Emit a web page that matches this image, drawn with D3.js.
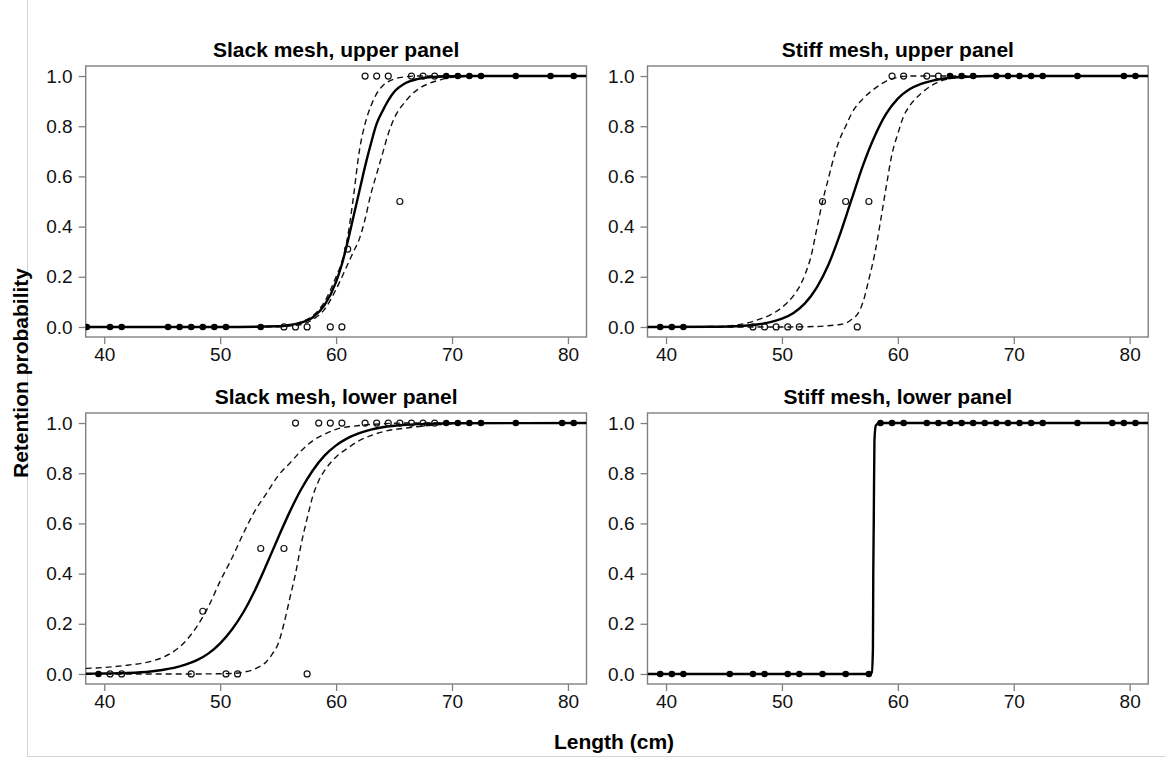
<!DOCTYPE html>
<html>
<head>
<meta charset="utf-8">
<script src="https://cdn.jsdelivr.net/npm/d3@7"></script>
<style>
  body { margin: 0; background: #fff; }
  svg { display: block; font-family: "Liberation Sans", Arial, sans-serif; }
</style>
</head>
<body>
<svg width="1165" height="758"></svg>
<script>
// tick labels
const xTicks = [40, 50, 60, 70, 80];
const yTicks = [0, 0.2, 0.4, 0.6, 0.8, 1.0];

const panelTitles = ["Slack mesh, upper panel", "Stiff mesh, upper panel",
                     "Slack mesh, lower panel", "Stiff mesh, lower panel"];

// observed proportions retained [length, proportion]
const slackUpperFilled = [[38.5,0],[40.5,0],[41.5,0],[45.5,0],[46.5,0],[47.5,0],[48.5,0],[49.5,0],[50.5,0],[53.5,0],
  [69.5,1],[70.5,1],[71.5,1],[72.5,1],[75.5,1],[78.5,1],[80.5,1]];
const slackUpperOpen = [[55.5,0],[56.5,0],[57.5,0],[59.5,0],[60.5,0],[61.0,0.31],[62.5,1],[63.5,1],[64.5,1],
  [65.5,0.5],[66.5,1],[67.5,1],[68.5,1]];

const stiffUpperFilled = [[39.5,0],[40.5,0],[41.5,0],
  [64.5,1],[65.5,1],[66.5,1],[68.5,1],[69.5,1],[70.5,1],[71.5,1],[72.5,1],[75.5,1],[79.5,1],[80.5,1]];
const stiffUpperOpen = [[47.5,0],[48.5,0],[49.5,0],[50.5,0],[51.5,0],[53.5,0.5],[55.5,0.5],[56.5,0],[57.5,0.5],
  [59.5,1],[60.5,1],[62.5,1],[63.5,1]];

const slackLowerFilled = [[39.5,0],[69.5,1],[70.5,1],[71.5,1],[72.5,1],[75.5,1],[79.5,1],[80.5,1]];
const slackLowerOpen = [[40.5,0],[41.5,0],[47.5,0],[48.5,0.25],[50.5,0],[51.5,0],[53.5,0.5],[55.5,0.5],[57.5,0],
  [56.5,1],[58.5,1],[59.5,1],[60.5,1],[62.5,1],[63.5,1],[64.5,1],[65.5,1],[66.5,1],[67.5,1],[68.5,1]];

const stiffLowerFilled = [[39.5,0],[40.5,0],[41.5,0],[45.5,0],[47.5,0],[48.5,0],[50.5,0],[51.5,0],[53.5,0],[55.5,0],[57.5,0],
  [58.5,1],[59.5,1],[60.5,1],[62.5,1],[63.5,1],[64.5,1],[65.5,1],[66.5,1],[67.5,1],[68.5,1],[69.5,1],[70.5,1],
  [71.5,1],[72.5,1],[75.5,1],[78.5,1],[79.5,1],[80.5,1]];
const stiffLowerOpen = [];

// fitted curves and confidence bands
const slackUpperFit = [[38.4,0],[50,0],[55,0.003],[56,0.008],[57,0.017],[58,0.039],[59,0.087],[60,0.18],[60.5,0.25],
  [61,0.34],[61.5,0.44],[62,0.54],[62.5,0.64],[63,0.73],[63.5,0.81],[64,0.86],[65,0.936],[66,0.972],[67,0.988],
  [68,0.995],[70,0.999],[72,1],[81.6,1]];
const slackUpperHi = [[38.4,0],[50,0],[54,0.002],[56,0.008],[57,0.02],[58,0.045],[59,0.1],[60,0.2],[60.5,0.26],
  [61,0.36],[61.5,0.52],[62,0.7],[62.5,0.81],[63,0.88],[63.5,0.93],[64,0.96],[65,0.988],[66,0.997],[67,1],[81.6,1]];
const slackUpperLo = [[38.4,0],[50,0],[55,0.001],[57,0.01],[58,0.03],[59,0.07],[60,0.15],[61,0.25],[61.5,0.3],
  [62,0.35],[62.5,0.43],[63,0.53],[63.5,0.61],[64,0.69],[64.5,0.77],[65,0.83],[66,0.9],[67,0.945],[68,0.97],
  [69,0.985],[70,0.995],[72,1],[81.6,1]];

const stiffUpperFit = [[38.4,0],[44,0.001],[46,0.003],[47,0.006],[48,0.011],[49,0.019],[50,0.033],[51,0.056],
  [52,0.095],[53,0.157],[54,0.247],[55,0.368],[56,0.507],[57,0.645],[58,0.76],[59,0.85],[60,0.91],[61,0.947],
  [62,0.969],[63,0.982],[64,0.99],[66,0.997],[68,1],[81.6,1]];
const stiffUpperHi = [[38.4,0],[44,0.002],[46,0.007],[48,0.03],[49,0.048],[50,0.078],[51,0.125],[51.5,0.16],
  [52,0.21],[52.5,0.28],[53,0.39],[53.5,0.5],[54,0.59],[54.5,0.68],[55,0.75],[55.5,0.8],[56,0.85],[57,0.91],
  [58,0.95],[59,0.98],[60,0.995],[61,1],[81.6,1]];
const stiffUpperLo = [[38.4,0],[50,0],[53,0.002],[54,0.005],[55,0.01],[55.5,0.015],[56,0.03],[56.5,0.05],[57,0.1],
  [57.5,0.19],[58,0.29],[58.5,0.42],[59,0.56],[59.5,0.69],[60,0.77],[60.5,0.84],[61,0.88],[62,0.93],[63,0.965],
  [64,0.985],[65,0.995],[66,1],[81.6,1]];

const slackLowerFit = [[38.4,0.001],[40,0.002],[42,0.004],[44,0.01],[45,0.016],[46,0.024],[47,0.037],[48,0.055],
  [49,0.082],[50,0.122],[51,0.176],[52,0.246],[53,0.334],[54,0.436],[55,0.543],[56,0.646],[57,0.737],[58,0.812],
  [59,0.87],[60,0.911],[61,0.94],[62,0.96],[63,0.974],[64,0.983],[66,0.993],[68,0.997],[70,0.999],[81.6,1]];
const slackLowerHi = [[38.4,0.022],[40,0.026],[42,0.035],[44,0.05],[45,0.065],[46,0.09],[47,0.13],[48,0.19],
  [49,0.27],[50,0.37],[51,0.46],[52,0.56],[53,0.65],[54,0.72],[55,0.79],[56,0.84],[57,0.89],[58,0.93],[59,0.955],
  [60,0.975],[62,0.99],[64,0.997],[66,1],[81.6,1]];
const slackLowerLo = [[38.4,0],[48,0],[50,0.001],[51,0.002],[52,0.007],[53,0.02],[54,0.05],[54.5,0.08],[55,0.12],
  [55.5,0.2],[56,0.3],[56.5,0.4],[57,0.52],[57.5,0.62],[58,0.71],[58.5,0.77],[59,0.81],[60,0.865],[61,0.9],
  [62,0.93],[63,0.95],[64,0.965],[66,0.98],[68,0.99],[70,0.997],[72,1],[81.6,1]];

const stiffLowerFit = [[38.4,0],[57.5,0],[57.75,0.005],[57.85,0.1],[57.88,0.4],[57.92,0.6],[57.98,0.93],
  [58.1,0.99],[58.4,1],[81.6,1]];

const panels = [
  { title: panelTitles[0], x0: 85.7, x1: 586.5, y0: 66, y1: 337,
    filled: slackUpperFilled, open: slackUpperOpen, fit: slackUpperFit, bands: [slackUpperHi, slackUpperLo] },
  { title: panelTitles[1], x0: 647.5, x1: 1148.2, y0: 66, y1: 337,
    filled: stiffUpperFilled, open: stiffUpperOpen, fit: stiffUpperFit, bands: [stiffUpperHi, stiffUpperLo] },
  { title: panelTitles[2], x0: 85.7, x1: 586.5, y0: 413, y1: 684,
    filled: slackLowerFilled, open: slackLowerOpen, fit: slackLowerFit, bands: [slackLowerHi, slackLowerLo] },
  { title: panelTitles[3], x0: 647.5, x1: 1148.2, y0: 413, y1: 684,
    filled: stiffLowerFilled, open: stiffLowerOpen, fit: stiffLowerFit, bands: [] }
];

const svg = d3.select("svg");
const grey = "#808080";

// faint frame of the original figure
svg.append("line").attr("x1", 27.5).attr("x2", 27.5).attr("y1", 0).attr("y2", 756)
  .attr("stroke", "#d4d4d4").attr("stroke-width", 1);
svg.append("line").attr("x1", 27).attr("x2", 1165).attr("y1", 756.5).attr("y2", 756.5)
  .attr("stroke", "#d4d4d4").attr("stroke-width", 1);

panels.forEach(function (p, i) {
  const x = d3.scaleLinear().domain([38.4, 81.6]).range([p.x0, p.x1]);
  const y = d3.scaleLinear().domain([-0.04, 1.04]).range([p.y1, p.y0]);
  const g = svg.append("g");

  const clipId = "clip" + i;
  g.append("clipPath").attr("id", clipId)
    .append("rect").attr("x", p.x0).attr("y", p.y0)
    .attr("width", p.x1 - p.x0).attr("height", p.y1 - p.y0);

  // axes
  const xAxis = d3.axisBottom(x).tickValues(xTicks).tickSize(7).tickPadding(4).tickFormat(d3.format("d"));
  const yAxis = d3.axisLeft(y).tickValues(yTicks).tickSize(7).tickPadding(6).tickFormat(d3.format(".1f"));

  const gx = g.append("g").attr("transform", "translate(0," + p.y1 + ")").call(xAxis);
  const gy = g.append("g").attr("transform", "translate(" + p.x0 + ",0)").call(yAxis);
  [gx, gy].forEach(function (a) {
    a.select(".domain").remove();
    a.selectAll(".tick line").attr("stroke", grey).attr("stroke-width", 1.3);
    a.selectAll(".tick text").attr("fill", "#111").style("font-size", "19px")
      .style("font-family", "'Liberation Sans', Arial, sans-serif");
  });
  gx.selectAll(".tick text").attr("dy", "0.71em");

  // plot box
  g.append("rect").attr("x", p.x0).attr("y", p.y0)
    .attr("width", p.x1 - p.x0).attr("height", p.y1 - p.y0)
    .attr("fill", "none").attr("stroke", grey).attr("stroke-width", 1.4);

  // title
  g.append("text").attr("x", (p.x0 + p.x1) / 2).attr("y", p.y0 - 9)
    .attr("text-anchor", "middle").style("font-size", "21px").style("font-weight", "bold")
    .text(p.title);

  const line = d3.line()
    .x(function (d) { return x(d[0]); })
    .y(function (d) { return y(d[1]); })
    .curve(d3.curveMonotoneX);

  const plot = g.append("g").attr("clip-path", "url(#" + clipId + ")");

  p.bands.forEach(function (b) {
    plot.append("path").datum(b).attr("d", line)
      .attr("fill", "none").attr("stroke", "#111").attr("stroke-width", 1.4)
      .attr("stroke-dasharray", "6,4");
  });

  plot.append("path").datum(p.fit).attr("d", line)
    .attr("fill", "none").attr("stroke", "#000").attr("stroke-width", 2.4);

  plot.selectAll("circle.open").data(p.open).enter().append("circle")
    .attr("class", "open")
    .attr("cx", function (d) { return x(d[0]); })
    .attr("cy", function (d) { return y(d[1]); })
    .attr("r", 3).attr("fill", "none").attr("stroke", "#111").attr("stroke-width", 1.2);

  plot.selectAll("circle.filled").data(p.filled).enter().append("circle")
    .attr("class", "filled")
    .attr("cx", function (d) { return x(d[0]); })
    .attr("cy", function (d) { return y(d[1]); })
    .attr("r", 3.3).attr("fill", "#000");
});

// shared axis titles
svg.append("text").attr("x", 614).attr("y", 749).attr("text-anchor", "middle")
  .style("font-size", "21px").style("font-weight", "bold").text("Length (cm)");
svg.append("text").attr("transform", "translate(28,373) rotate(-90)").attr("text-anchor", "middle")
  .style("font-size", "21px").style("font-weight", "bold").text("Retention probability");
</script>
</body>
</html>
